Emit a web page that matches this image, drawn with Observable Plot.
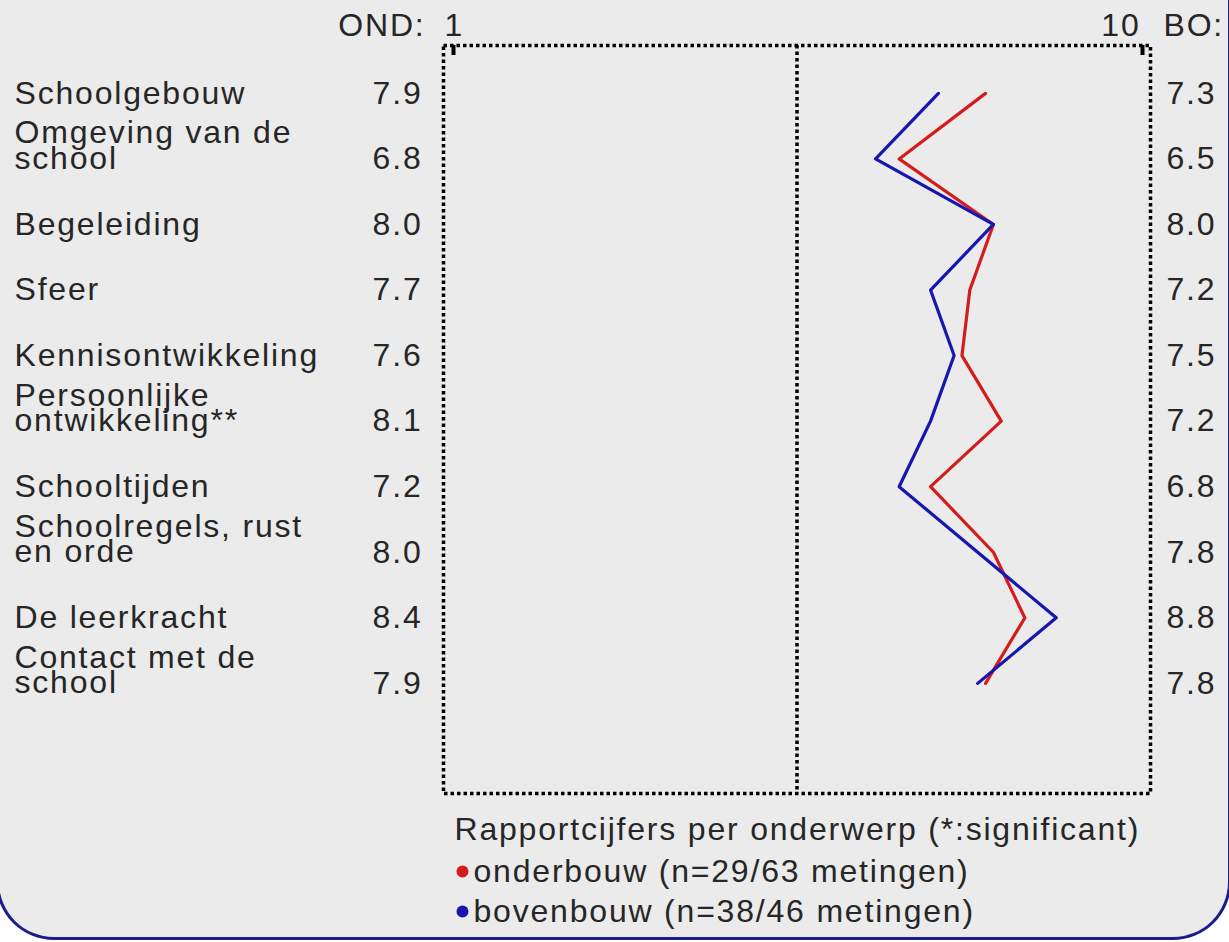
<!DOCTYPE html>
<html>
<head>
<meta charset="utf-8">
<script src="https://cdn.jsdelivr.net/npm/d3@7"></script>
<script src="https://cdn.jsdelivr.net/npm/@observablehq/plot@0.6"></script>
<style>
  html, body { margin: 0; padding: 0; background: #ffffff; width: 1229px; height: 942px; overflow: hidden; }
  #panel {
    position: absolute; left: -4px; top: -10px; width: 1235px; height: 950px;
    box-sizing: border-box; background: #ebebeb;
    border: 3px solid #1c1c8c; border-top: none;
    border-radius: 0 0 58px 58px;
  }
  #chart { position: absolute; left: 0; top: 0; }
  #chart svg text { font-family: "Liberation Sans", Arial, sans-serif; letter-spacing: 1.8px; }
</style>
</head>
<body>
<div id="panel"></div>
<div id="chart"></div>
<script>
// ---- data ----
const categories = [
  "Schoolgebouw",
  "Omgeving van de\nschool",
  "Begeleiding",
  "Sfeer",
  "Kennisontwikkeling",
  "Persoonlijke\nontwikkeling**",
  "Schooltijden",
  "Schoolregels, rust\nen orde",
  "De leerkracht",
  "Contact met de\nschool"
];
const ondValues = [7.9, 6.8, 8.0, 7.7, 7.6, 8.1, 7.2, 8.0, 8.4, 7.9];
const boValues  = [7.3, 6.5, 8.0, 7.2, 7.5, 7.2, 6.8, 7.8, 8.8, 7.8];
const scaleTicks = [1, 10];
const headerLeft = "OND:";
const headerRight = "BO:";
const legendTitle = "Rapportcijfers per onderwerp (*:significant)";
const seriesNames = ["onderbouw (n=29/63 metingen)", "bovenbouw (n=38/46 metingen)"];
const seriesColors = ["#d41c1c", "#1616b0"];

// ---- build table ----
const rows = categories.map((c, i) => ({i, label: c, ond: ondValues[i], bo: boValues[i], multi: c.includes("\n")}));

const FS = 32;
const ink = "#262626";
const font = "'Liberation Sans', Arial, sans-serif";
const T = {fontSize: FS, fill: ink, fontFamily: font, lineAnchor: "middle"};

const chart = Plot.plot({
  width: 1229,
  height: 942,
  marginLeft: 443,
  marginRight: 79,
  marginTop: 45,
  marginBottom: 149,
  style: {background: "transparent", fontFamily: font, fontSize: FS + "px", color: ink},
  x: {domain: [1, 10], axis: null},
  y: {domain: [-0.73, 10.68], reverse: true, axis: null},
  marks: [
    // dotted frame and midline
    Plot.frame({stroke: "#000", strokeWidth: 3.5, strokeDasharray: "3.5,3"}),
    Plot.ruleX([5.5], {stroke: "#000", strokeWidth: 3.5, strokeDasharray: "3.5,3"}),
    // small corner ticks
    Plot.ruleX([scaleTicks[0]], {dx: 10, insetBottom: 738, stroke: "#000", strokeWidth: 4}),
    Plot.ruleX([scaleTicks[1]], {dx: -8, insetBottom: 738, stroke: "#000", strokeWidth: 4}),
    // header
    Plot.text([headerLeft], {...T, frameAnchor: "top-left", text: d => d, dx: -18, dy: -20, textAnchor: "end"}),
    Plot.text([scaleTicks[0]], {...T, x: d => d, frameAnchor: "top", text: d => String(d), dx: 1, dy: -20, textAnchor: "start"}),
    Plot.text([scaleTicks[1]], {...T, x: d => d, frameAnchor: "top", text: d => String(d), dx: -10, dy: -20, textAnchor: "end"}),
    Plot.text([headerRight], {...T, frameAnchor: "top-right", text: d => d, dx: 13, dy: -20, textAnchor: "start"}),
    // category labels (single-line and two-line)
    Plot.text(rows.filter(d => !d.multi), {...T, y: "i", frameAnchor: "left", text: "label", dx: -429, textAnchor: "start"}),
    Plot.text(rows.filter(d => d.multi), {...T, y: "i", frameAnchor: "left", text: "label", dx: -429, dy: -11, textAnchor: "start", lineHeight: 0.8}),
    // OND values
    Plot.text(rows, {...T, y: "i", frameAnchor: "left", text: d => d.ond.toFixed(1), dx: -21, textAnchor: "end"}),
    // BO values
    Plot.text(rows, {...T, y: "i", frameAnchor: "right", text: d => d.bo.toFixed(1), dx: 16, textAnchor: "start"}),
    // lines
    Plot.line(rows, {x: "ond", y: "i", stroke: seriesColors[0], strokeWidth: 3.2, curve: "linear"}),
    Plot.line(rows, {x: "bo", y: "i", stroke: seriesColors[1], strokeWidth: 3.2, curve: "linear"}),
    // legend
    Plot.text([legendTitle], {...T, frameAnchor: "bottom-left", text: d => d, dx: 11, dy: 36, textAnchor: "start"}),
    Plot.dot([seriesNames[0]], {frameAnchor: "bottom-left", dx: 19, dy: 78, r: 6, fill: seriesColors[0], stroke: "none"}),
    Plot.text([seriesNames[0]], {...T, frameAnchor: "bottom-left", text: d => d, dx: 30, dy: 78, textAnchor: "start"}),
    Plot.dot([seriesNames[1]], {frameAnchor: "bottom-left", dx: 19, dy: 118, r: 6, fill: seriesColors[1], stroke: "none"}),
    Plot.text([seriesNames[1]], {...T, frameAnchor: "bottom-left", text: d => d, dx: 30, dy: 118, textAnchor: "start"})
  ]
});
document.getElementById("chart").appendChild(chart);
</script>
</body>
</html>
